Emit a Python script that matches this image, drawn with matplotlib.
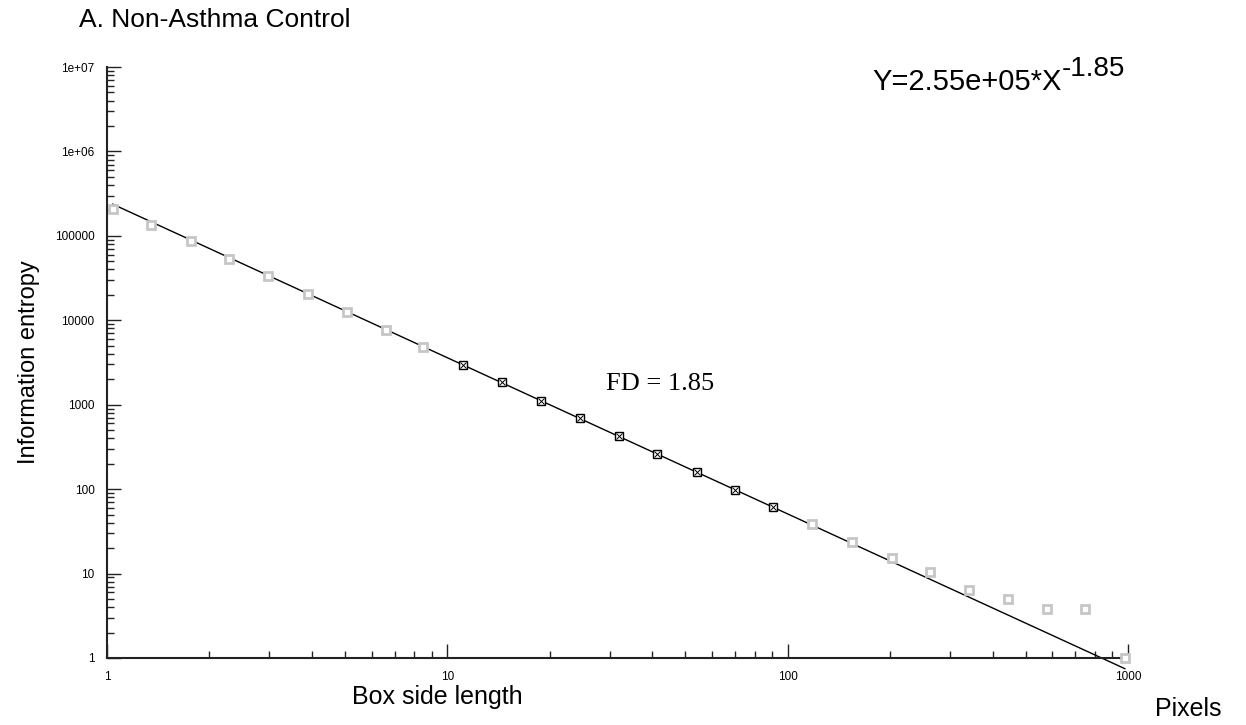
import numpy as np
import matplotlib
matplotlib.use('Agg')
import matplotlib.pyplot as plt
from matplotlib.ticker import LogLocator, FuncFormatter, NullFormatter

# box counting results
box_size = [1.04, 1.35, 1.77, 2.28, 2.97, 3.89, 5.06, 6.60, 8.49, 11.1, 14.5,
            18.9, 24.5, 31.9, 41.4, 54.0, 70.2, 90.8, 118, 155, 202, 262, 340,
            444, 577, 750, 979]
entropy = [208900, 134900, 87900, 53850, 33570, 20380, 12680, 7695, 4879, 2923,
           1848, 1119, 698, 427, 259, 161, 97.9, 61.0, 38.2, 23.9, 15.2, 10.4,
           6.43, 5.00, 3.84, 3.84, 1.0]
fit_start, fit_end = 9, 18   # points used for the fit (black)
coef = 2.55e5
fd = 1.85

x = np.array(box_size)
y = np.array(entropy)
in_fit = np.zeros(len(x), dtype=bool)
in_fit[fit_start:fit_end] = True

plt.rcParams['font.family'] = ['Liberation Sans', 'DejaVu Sans']

fig = plt.figure(figsize=(12.46, 7.25), dpi=100)
ax = fig.add_axes([107/1246, 1-658/725, (1128-107)/1246, (658-67)/725])

# fitted power law
ax.plot(x, coef * x**(-fd), color='black', lw=1.0, clip_on=False, zorder=2)

# points outside the fit range
ax.plot(x[~in_fit], y[~in_fit], linestyle='none', marker='s', markersize=5.8,
        mfc='white', mec='#c6c6c6', mew=2.0, clip_on=False, zorder=3)
# points used in the fit
ax.plot(x[in_fit], y[in_fit], linestyle='none', marker='s', markersize=6,
        mfc='white', mec='black', mew=1.0, zorder=4)
ax.plot(x[in_fit], y[in_fit], linestyle='none', marker='x', markersize=4,
        mec='black', mew=0.7, zorder=5)

ax.set_xscale('log')
ax.set_yscale('log')
ax.set_xlim(1, 1000)
ax.set_ylim(1, 1e7)

ax.spines['top'].set_visible(False)
ax.spines['right'].set_visible(False)
for s in ['left', 'bottom']:
    ax.spines[s].set_linewidth(1.5)
    ax.spines[s].set_color('#222222')

ax.xaxis.set_major_locator(LogLocator(base=10, numticks=10))
ax.yaxis.set_major_locator(LogLocator(base=10, numticks=10))
ax.xaxis.set_minor_locator(LogLocator(base=10, subs=np.arange(2, 10), numticks=20))
ax.yaxis.set_minor_locator(LogLocator(base=10, subs=np.arange(2, 10), numticks=20))
ax.xaxis.set_minor_formatter(NullFormatter())
ax.yaxis.set_minor_formatter(NullFormatter())

def xfmt(v, pos):
    return '%d' % round(v)

def yfmt(v, pos):
    if v >= 1e6:
        return '1e+%02d' % round(np.log10(v))
    return '%d' % round(v)

ax.xaxis.set_major_formatter(FuncFormatter(xfmt))
ax.yaxis.set_major_formatter(FuncFormatter(yfmt))

ax.tick_params(which='major', direction='in', length=10, width=1.0, labelsize=8.5,
               color='#222222')
ax.tick_params(which='minor', direction='in', length=5, width=1.0, color='#222222')
ax.tick_params(axis='x', which='major', pad=9)
ax.tick_params(axis='y', which='major', pad=9)

ax.set_xlabel('Box side length', fontsize=18)
ax.xaxis.set_label_coords(0.324, -0.045)
ax.set_ylabel('Information entropy', fontsize=17)
ax.yaxis.set_label_coords(-0.066, 0.5)

ax.text(29.2, 1760, 'FD = %.2f' % fd, fontsize=19, family='Liberation Serif',
        va='center', ha='left')

fig.text(79/1246, 1-27/725, 'A. Non-Asthma Control', fontsize=19, va='baseline')
fig.text(1155/1246, 1-716/725, 'Pixels', fontsize=18, va='baseline')

eq = fig.text(872/1246, 1-90/725, 'Y=%.2e*X' % coef, fontsize=21, va='baseline')
ax.annotate('-%.2f' % fd, xy=(1.0, 0.7), xycoords=eq, fontsize=20,
            ha='left', va='baseline', annotation_clip=False)

fig.savefig('out.png', dpi=100)
